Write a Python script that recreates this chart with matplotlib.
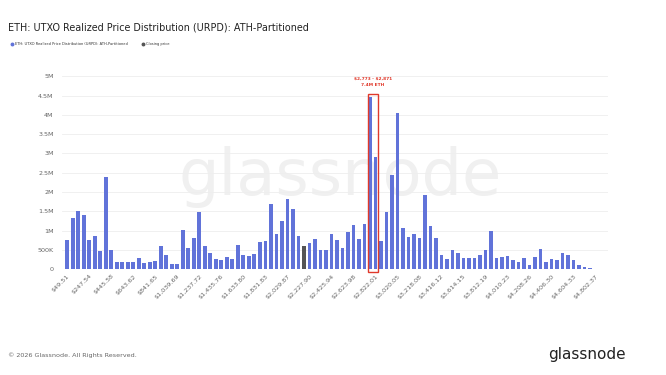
import numpy as np
import matplotlib
matplotlib.use("Agg")
import matplotlib.pyplot as plt
from matplotlib.patches import Rectangle
from matplotlib.lines import Line2D

# URPD buckets (ETH supply, millions) - bucket width ~ $49.51
supply_m = [
    0.76, 1.32, 1.52, 1.41, 0.77, 0.85, 0.46, 2.40, 0.50, 0.18,
    0.18, 0.18, 0.18, 0.28, 0.16, 0.18, 0.22, 0.59, 0.36, 0.14,
    0.14, 1.02, 0.54, 0.81, 1.49, 0.60, 0.41, 0.27, 0.24, 0.31,
    0.27, 0.63, 0.36, 0.34, 0.40, 0.71, 0.73, 1.69, 0.91, 1.26,
    1.81, 1.55, 0.86, 0.60, 0.69, 0.79, 0.49, 0.49, 0.92, 0.77,
    0.54, 0.97, 1.15, 0.79, 1.17, 4.45, 2.90, 0.72, 1.49, 2.44,
    4.06, 1.08, 0.83, 0.92, 0.80, 1.93, 1.12, 0.82, 0.37, 0.26,
    0.50, 0.41, 0.30, 0.30, 0.29, 0.37, 0.49, 0.98, 0.29, 0.33,
    0.35, 0.25, 0.20, 0.30, 0.11, 0.33, 0.52, 0.18, 0.26, 0.23,
    0.43, 0.36, 0.25, 0.11, 0.05, 0.02, 0.01, 0.01,
]
closing_bucket = 44          # bucket holding the closing price (1-based)
highlight = [56, 57]         # buckets in the red box
highlight_text = ["\\$2,773 - \\$2,871", "7.4M ETH"]

tick_labels = [
    "$49.51", "$247.54", "$445.58", "$643.62", "$841.65", "$1,039.69",
    "$1,237.72", "$1,435.76", "$1,633.80", "$1,831.83", "$2,029.87",
    "$2,227.90", "$2,425.94", "$2,623.98", "$2,822.01", "$3,020.05",
    "$3,218.08", "$3,416.12", "$3,614.15", "$3,812.19", "$4,010.23",
    "$4,208.26", "$4,406.30", "$4,604.33", "$4,802.37",
]
tick_every = 4

BLUE = "#6173d9"
GREY = "#555555"
RED = "#e0392b"

vals = np.array(supply_m) * 1e6
x = np.arange(1, len(vals) + 1)
colors = [GREY if i == closing_bucket else BLUE for i in x]

fig = plt.figure(figsize=(6.66, 3.75), dpi=100)
ax = fig.add_axes([0.093, 0.282, 0.82, 0.525])

# watermark
ax.text(0.51, 0.47, "glassnode", transform=ax.transAxes, fontsize=46,
        color="#f0f0f0", ha="center", va="center", zorder=0)

ax.bar(x, vals, width=0.65, color=colors, zorder=2)

ax.set_xlim(0.04, 99.3)
ax.set_ylim(0, 5.1e6)
ax.set_yticks(np.arange(0, 5.01e6, 5e5))
ax.set_yticklabels(["0", "500K", "1M", "1.5M", "2M", "2.5M", "3M", "3.5M", "4M", "4.5M", "5M"])
ax.set_xticks(x[::tick_every][:len(tick_labels)])
ax.set_xticklabels(tick_labels, rotation=45, ha="right", rotation_mode="anchor")
ax.tick_params(axis="both", length=0, labelsize=4.6, colors="#666666")
ax.tick_params(axis="x", pad=3)
ax.tick_params(axis="y", pad=6)
ax.grid(axis="y", color="#eeeeee", linewidth=0.6, zorder=1)
ax.set_axisbelow(True)
for s in ax.spines.values():
    s.set_visible(False)

# red highlight box
hx0, hx1 = min(highlight) - 0.35, max(highlight) + 0.5
htop = max(vals[i - 1] for i in highlight) + 0.1e6
ax.add_patch(Rectangle((hx0, -0.08e6), hx1 - hx0, htop + 0.08e6, fill=False,
                       edgecolor=RED, linewidth=1.0, clip_on=False, zorder=3))
ax.text((hx0 + hx1) / 2, htop + 0.38e6, highlight_text[0], color=RED, fontsize=3.2,
        fontweight="bold", ha="center", va="center")
ax.text((hx0 + hx1) / 2, htop + 0.22e6, highlight_text[1], color=RED, fontsize=3.2,
        fontweight="bold", ha="center", va="center")

fig.text(0.012, 1 - 28 / 375, "ETH: UTXO Realized Price Distribution (URPD): ATH-Partitioned",
         fontsize=6.9, color="#222222", ha="left", va="center")

handles = [Line2D([], [], marker="o", linestyle="", color=BLUE, markersize=1.8),
           Line2D([], [], marker="o", linestyle="", color=GREY, markersize=1.8)]
fig.legend(handles, ["ETH: UTXO Realized Price Distribution (URPD): ATH-Partitioned", "Closing price"],
           loc="center left", bbox_to_anchor=(0.012, 1 - 44 / 375), ncol=2, frameon=False,
           fontsize=2.6, handlelength=0.6, handletextpad=0.4, columnspacing=4.0,
           labelcolor="#333333")

fig.text(0.012, 1 - 355 / 375, "\u00a9 2026 Glassnode. All Rights Reserved.",
         fontsize=4.6, color="#666666", ha="left", va="center")
fig.text(0.94, 1 - 355 / 375, "glassnode", fontsize=11, color="#222222",
         ha="right", va="center")

fig.savefig("out.png", dpi=100, facecolor="white")
